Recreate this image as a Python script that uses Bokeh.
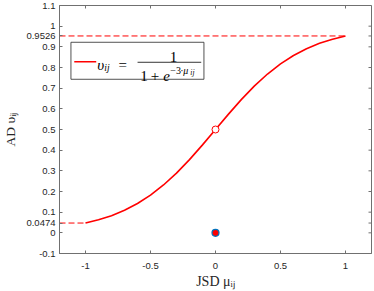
from math import pi
from bokeh.plotting import figure
from bokeh.models import FixedTicker, Range1d
from bokeh.embed import file_html
from bokeh.resources import INLINE
from bokeh.core.properties import value

# ---- data ----
mu = [-1.0, -0.9, -0.8, -0.7, -0.6, -0.5, -0.4, -0.3, -0.2, -0.1, 0.0,
      0.1, 0.2, 0.3, 0.4, 0.5, 0.6, 0.7, 0.8, 0.9, 1.0]
ad = [0.0474, 0.0630, 0.0832, 0.1091, 0.1419, 0.1824, 0.2315, 0.2891, 0.3543, 0.4256, 0.5000,
      0.5744, 0.6457, 0.7109, 0.7685, 0.8176, 0.8581, 0.8909, 0.9168, 0.9370, 0.9526]
ref_low = 0.0474
ref_high = 0.9526
open_pt_x = [0.0]
open_pt_y = [0.5]
fill_pt_x = [0.0]
fill_pt_y = [0.0]
x_ticks = [-1, -0.5, 0, 0.5, 1]
x_tick_labels = ["-1", "-0.5", "0", "0.5", "1"]
y_ticks = [-0.1, 0, 0.0474, 0.1, 0.2, 0.3, 0.4, 0.5, 0.6, 0.7, 0.8, 0.9, 0.9526, 1, 1.1]
y_tick_labels = ["-0.1", "0", "0.0474", "0.1", "0.2", "0.3", "0.4", "0.5", "0.6", "0.7",
                 "0.8", "0.9", "0.9526", "1", "1.1"]
x_min, x_max = -1.2, 1.2
y_min, y_max = -0.1, 1.1
x_title = "JSD μᵢⱼ"
y_title = "AD υᵢⱼ"

RED = "#ff0000"
AXC = "#707070"
TXT = "#262626"
SERIF = "Liberation Serif"
SANS = "Liberation Sans"

W, H = 374, 291
BL, BR, BT, BB = 54, 3, 5, 37
p = figure(width=W, height=H, x_range=Range1d(x_min, x_max), y_range=Range1d(y_min, y_max),
           output_backend="svg", toolbar_location=None,
           min_border_left=BL, min_border_right=BR, min_border_top=BT, min_border_bottom=BB)
p.xgrid.visible = False
p.ygrid.visible = False
p.outline_line_color = AXC
p.outline_line_width = 1
p.background_fill_color = "white"
p.border_fill_color = "white"

PXX = (W - BL - BR) / (x_max - x_min)
PXY = (H - BT - BB) / (y_max - y_min)


def style_axis(ax, ticks, labels):
    ax.ticker = FixedTicker(ticks=ticks)
    ax.major_label_overrides = {t: l for t, l in zip(ticks, labels)}
    ax.axis_line_color = AXC
    ax.axis_line_width = 1
    ax.major_tick_line_color = AXC
    ax.major_tick_in = 3
    ax.major_tick_out = 0
    ax.minor_tick_in = 0
    ax.minor_tick_out = 0
    ax.minor_tick_line_color = None
    ax.major_label_text_font = SANS
    ax.major_label_text_font_size = "9.5px"
    ax.major_label_text_color = TXT
    ax.axis_label_text_font = SERIF
    ax.axis_label_text_font_style = "normal"
    ax.axis_label_text_color = TXT


style_axis(p.xaxis[0], x_ticks, x_tick_labels)
p.xaxis[0].major_label_standoff = 9
p.xaxis[0].axis_label = x_title
p.xaxis[0].axis_label_text_font_size = "14px"
p.xaxis[0].axis_label_standoff = 2
style_axis(p.yaxis[0], y_ticks, y_tick_labels)
p.yaxis[0].major_label_standoff = 4
p.yaxis[0].axis_label = y_title
p.yaxis[0].axis_label_text_font_size = "13.5px"
p.yaxis[0].axis_label_standoff = 5

# mirrored inward ticks on top and right edges (outer half clipped by the frame)
p.scatter([x_max] * len(y_ticks), y_ticks, marker="dash", size=6, line_color=AXC, line_width=1)
p.scatter(x_ticks, [y_max] * len(x_ticks), marker="dash", angle=pi / 2, size=6, line_color=AXC, line_width=1)

# reference dashed lines
p.line([x_min, mu[0]], [ref_low, ref_low], line_color=RED, line_width=1, line_dash="6 3")
p.line([x_min, mu[-1]], [ref_high, ref_high], line_color=RED, line_width=1, line_dash="6 3")

# curve and points
p.line(mu, ad, line_color=RED, line_width=1.6)
p.scatter(open_pt_x, open_pt_y, size=7, marker="circle", fill_color="white", line_color=RED, line_width=1)
p.scatter(fill_pt_x, fill_pt_y, size=7, marker="circle", fill_color=RED, line_color="#0072bd", line_width=1.2)

# ---- legend (manual, to typeset the formula) ----
ax0 = x_min + (66.7 - BL) / PXX     # top-left corner of the legend box
ay0 = y_max - (42 - BT) / PXY
p.rect([ax0 + 66.5 / PXX], [ay0 - 18.5 / PXY], width=133, height=37,
       width_units="screen", height_units="screen",
       fill_color="white", line_color="#262626", line_width=0.8)
p.line([ax0 + 2.3 / PXX, ax0 + 24.6 / PXX], [ay0 - 19.5 / PXY] * 2, line_color=RED, line_width=1.6)
p.line([ax0 + 66.6 / PXX, ax0 + 131.3 / PXX], [ay0 - 20 / PXY] * 2, line_color="black", line_width=0.8)


def t(dx, dy, s, size, italic=False, align="left"):
    p.text(x=[ax0], y=[ay0], text=[s], x_offset=dx, y_offset=dy,
           text_font=value(SERIF), text_font_size=size,
           text_font_style="italic" if italic else "normal", text_color="black",
           text_align=align, text_baseline="alphabetic")


t(25.3, 23, "υ", "15px", True)
t(32.3, 25.5, "ij", "9.5px", True)
t(46.5, 23, "=", "15px")
t(101.6, 14.7, "1", "15px", align="center")
t(68.3, 34, "1", "15px")
t(78.8, 34, "+", "15px")
t(91.3, 34, "e", "15px", True)
t(98.3, 28, "−3", "10px")
t(108.3, 28, "·", "10px")
t(111.3, 28, "μ", "10px", True)
t(118.3, 30, "ij", "7.5px", True)

open("out.html", "w").write(file_html(p, INLINE))
